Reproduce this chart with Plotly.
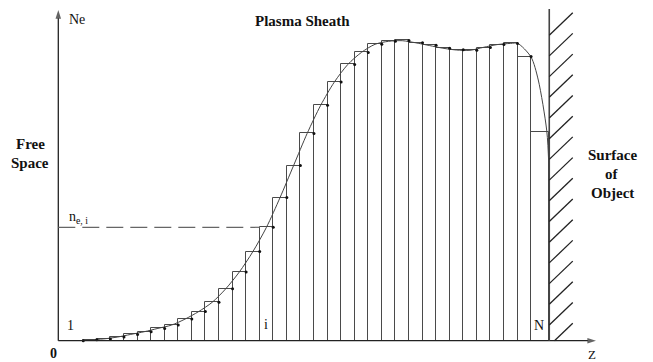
import plotly.graph_objects as go

# ---------------- data ----------------
# cell boundaries along Z (units: cell widths, Ne axis at z = 0)
cell_edges = [1.84, 2.84, 3.84, 4.84, 5.84, 6.84, 7.84, 8.84, 9.84, 10.84,
              11.84, 12.84, 13.84, 14.84, 15.84, 16.84, 17.84, 18.84, 19.84, 20.84,
              21.84, 22.84, 23.84, 24.84, 25.84, 26.84, 27.84, 28.84, 29.84, 30.84,
              31.84, 32.84, 33.84, 34.84, 36.18]
# stair-step electron density of each cell (normalised)
cell_ne = [0.003, 0.006, 0.012, 0.021, 0.030, 0.041, 0.052, 0.072, 0.097, 0.128,
           0.173, 0.229, 0.297, 0.378, 0.477, 0.584, 0.691, 0.785, 0.862, 0.921,
           0.961, 0.988, 0.998, 1.001, 0.993, 0.985, 0.975, 0.970, 0.968, 0.977,
           0.987, 0.991, 0.947, 0.695]
# continuous profile
curve_z = [1.84, 2.34, 3.34, 4.34, 5.34, 6.34, 7.34, 8.34, 9.34, 10.34, 11.34,
           12.34, 13.34, 14.34, 15.34, 16.34, 17.34, 18.34, 19.34, 20.34, 21.34,
           22.34, 23.34, 24.34, 25.34, 26.34, 27.34, 28.34, 29.34, 30.34, 31.34,
           32.34, 33.34, 33.85, 34.83, 35.37, 35.99, 36.13, 36.18, 36.18]
curve_ne = [0.000, 0.003, 0.006, 0.012, 0.021, 0.030, 0.041, 0.052, 0.072, 0.097, 0.128,
            0.173, 0.229, 0.297, 0.378, 0.477, 0.584, 0.691, 0.785, 0.862, 0.921,
            0.961, 0.988, 0.998, 1.000, 0.993, 0.984, 0.975, 0.969, 0.968, 0.978,
            0.987, 0.991, 0.991, 0.946, 0.869, 0.702, 0.602, 0.469, 0.000]
i_index = 13          # cell "i" (0-based)
wall_z = cell_edges[-1]
z_max = 39.62
ne_max = 1.102

# ---------------- geometry helpers ----------------
W, H = 653, 362
X0, SX = 58.3, 13.57   # pixel of z=0, pixels per unit
Y0, SY = 340.7, 300.0  # pixel of ne=0, pixels per unit
def zx(p):  # pixel -> data x
    return (p - X0) / SX
def ny(p):  # pixel -> data y
    return (Y0 - p) / SY
def px(p):
    return p / W
def py(p):
    return 1 - p / H

centers = [(a + b) / 2 for a, b in zip(cell_edges[:-1], cell_edges[1:])]
widths = [b - a for a, b in zip(cell_edges[:-1], cell_edges[1:])]
rights = cell_edges[1:]

fig = go.Figure()
fig.add_trace(go.Bar(x=centers, y=cell_ne, width=widths,
                     marker=dict(color="rgba(0,0,0,0)", line=dict(color="#4a4a4a", width=1)),
                     hoverinfo="skip"))
fig.add_trace(go.Scatter(x=curve_z, y=curve_ne, mode="lines",
                         line=dict(color="#444", width=1, shape="spline", smoothing=0.8),
                         hoverinfo="skip"))
fig.add_trace(go.Scatter(x=[cell_edges[0]] + rights[:-1], y=[0] + cell_ne[:-1], mode="markers",
                         marker=dict(color="#111", size=3), hoverinfo="skip"))

# axes with arrow heads
for xs, ys in (([0, 0], [0, ne_max]), ([0, z_max], [0, 0])):
    fig.add_trace(go.Scatter(x=xs, y=ys, mode="lines+markers",
                             line=dict(color="#222", width=1.3),
                             marker=dict(symbol="arrow", size=[0, 9], angleref="previous",
                                         color="#222", line=dict(width=0)),
                             hoverinfo="skip"))

shapes = []
# dashed level n_e,i
shapes.append(dict(type="line", xref="x", yref="y", x0=0, x1=cell_edges[i_index],
                   y0=cell_ne[i_index], y1=cell_ne[i_index],
                   line=dict(color="#666", width=1.2, dash="17px,7px")))
# wall
shapes.append(dict(type="line", xref="x", yref="y", x0=wall_z, x1=wall_z,
                   y0=0, y1=ny(9), line=dict(color="#444", width=1.6)))
# hatching
wall_px = X0 + wall_z * SX
for k in range(16):
    yb = 35.2 + 20.7 * k
    x0p, y0p = wall_px, yb
    x1p, y1p = wall_px + 23.5, yb - 22.5
    if y0p > Y0:
        t = (y0p - Y0) / (y0p - y1p)
        x0p, y0p = x0p + t * 23.5, Y0
    shapes.append(dict(type="line", xref="x", yref="y", x0=zx(x0p), x1=zx(x1p),
                       y0=ny(y0p), y1=ny(y1p), line=dict(color="#222", width=1.3)))
fig.update_layout(shapes=shapes)

ann = []
serif = "Liberation Serif, Times New Roman, serif"
def label(text, xp, yp, size=13, bold=False, xanchor="center"):
    t = f"<b>{text}</b>" if bold else text
    ann.append(dict(x=px(xp), y=py(yp), xref="paper", yref="paper", text=t, showarrow=False,
                    xanchor=xanchor, yanchor="middle",
                    font=dict(family=serif, size=size, color="#111")))

label("Ne", 67, 19, 14, xanchor="left")
label("Plasma Sheath", 302, 20.5, 15, bold=True)
label("Free", 30, 144, 15, bold=True)
label("Space", 30, 162.7, 15, bold=True)
label("Surface", 612, 155, 15, bold=True)
label("of", 612, 174, 15, bold=True)
label("Object", 612, 193.3, 15, bold=True)
label("n<sub>e, i</sub>", 67, 217, 14, xanchor="left")
label("1", 70, 325, 14)
label("i", X0 + centers[i_index] * SX, 324, 14)
label("N", X0 + centers[-1] * SX - 1, 325, 14)
label("0", 53, 353, 14, bold=True)
label("Z", 592, 354, 13)

fig.update_layout(
    annotations=ann,
    width=W, height=H,
    margin=dict(l=0, r=0, t=0, b=0, pad=0),
    paper_bgcolor="white", plot_bgcolor="white",
    showlegend=False,
    xaxis=dict(visible=False, range=[zx(0), zx(W)], fixedrange=True),
    yaxis=dict(visible=False, range=[ny(H), ny(0)], fixedrange=True),
    bargap=0,
)

fig.write_html("out.html")
